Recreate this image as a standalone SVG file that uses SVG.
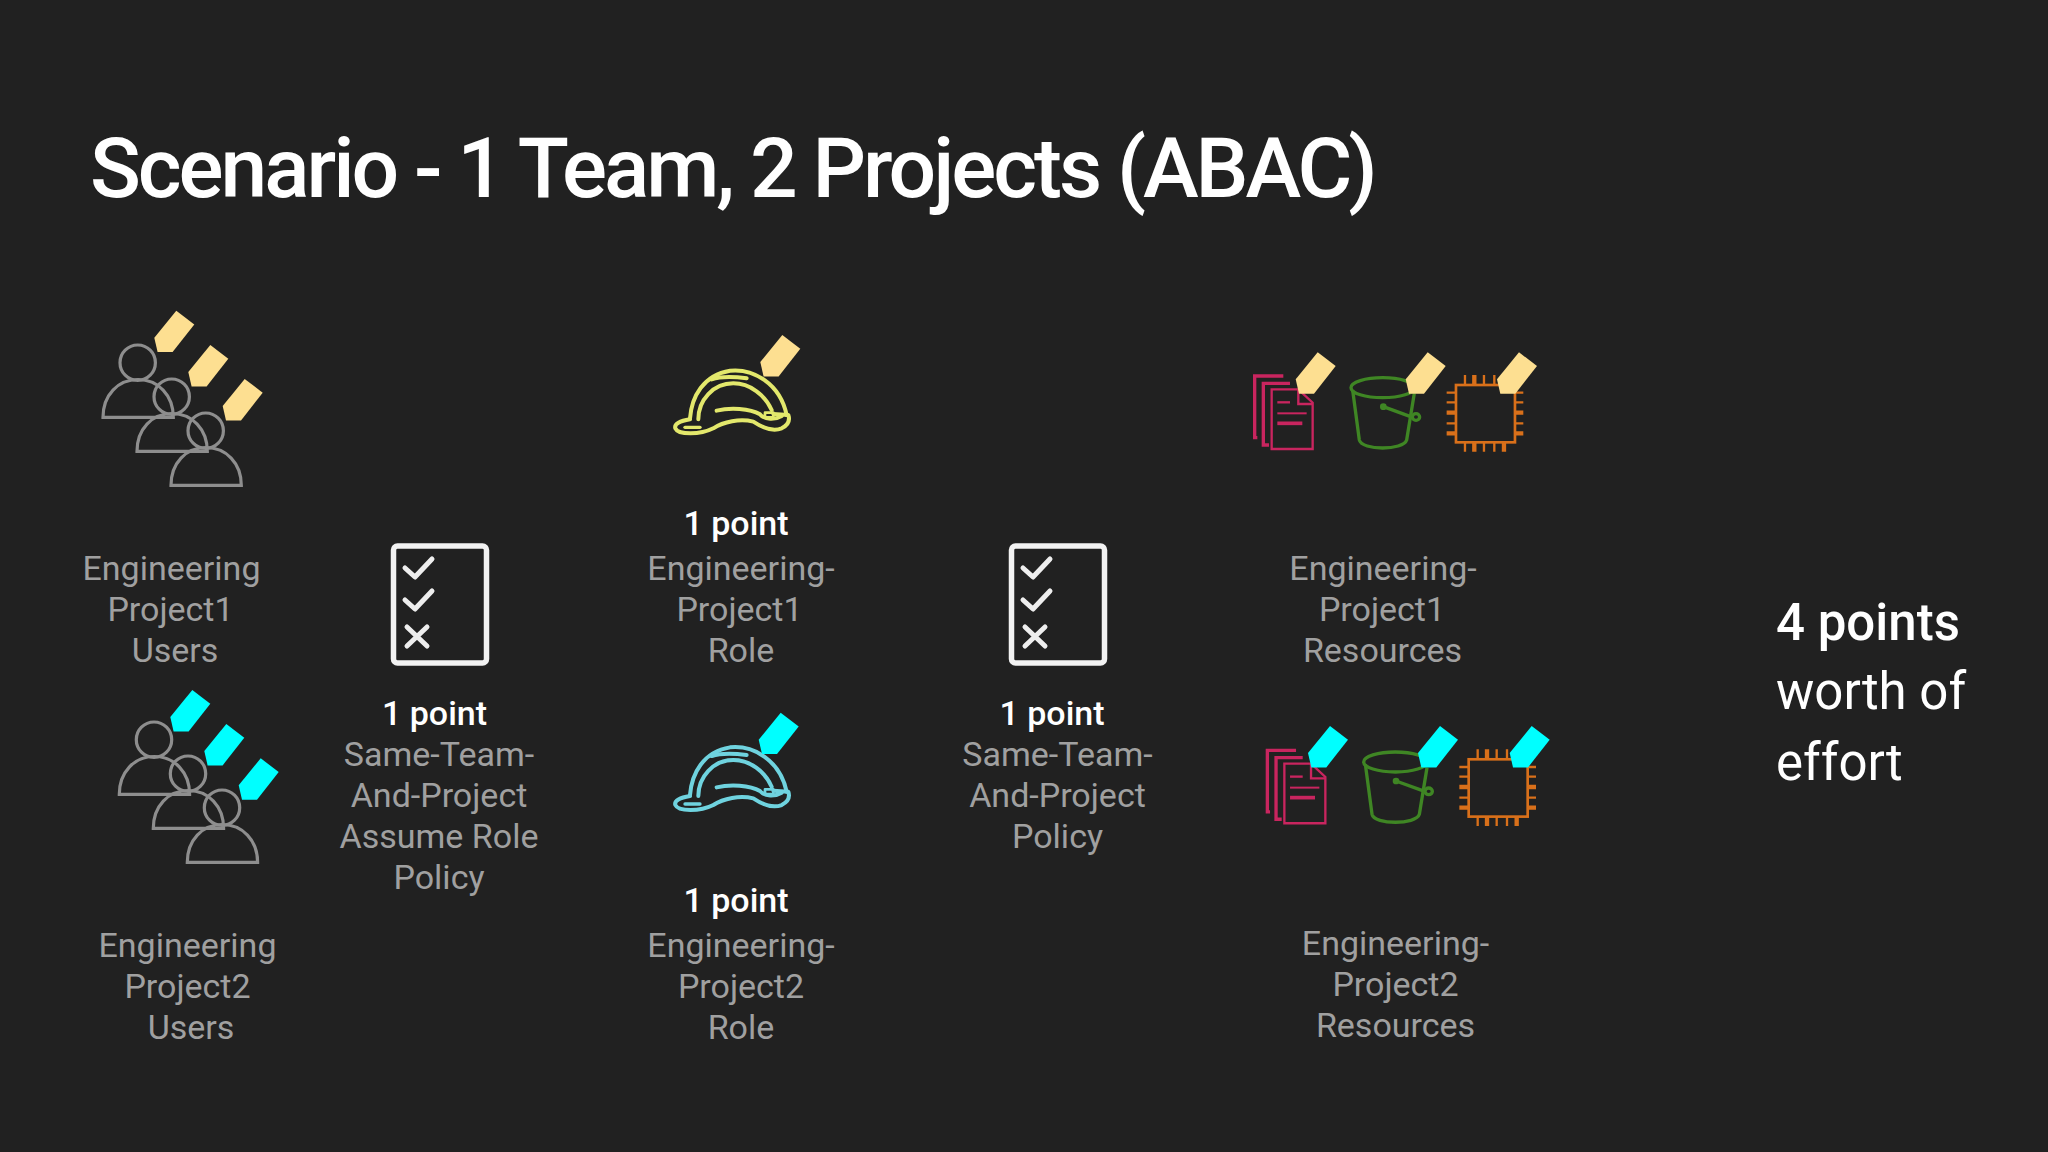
<svg xmlns="http://www.w3.org/2000/svg" xmlns:xlink="http://www.w3.org/1999/xlink" width="2048" height="1152" viewBox="0 0 2048 1152">
<style>
text{font-family:Roboto,"Liberation Sans",sans-serif}
.t{font-size:84px;fill:#fff;font-weight:500;letter-spacing:-3.05px}
.l{font-size:34px;fill:#a0a0a0;text-anchor:middle}
.p{font-size:34px;fill:#fff;font-weight:500;text-anchor:middle}
.b{font-size:51px;fill:#fff}
.y{fill:#fddf91}.c{fill:#00ffff}
.u{fill:none;stroke:#8e8e8e;stroke-width:3.2}
.k{fill:none;stroke:#eeeeee;stroke-width:5;stroke-linecap:round;stroke-linejoin:round}
.k2{fill:none;stroke:#f2f2f2;stroke-width:5.5;stroke-linejoin:round}
.h{fill:none;stroke-width:12;stroke-linecap:round;stroke-linejoin:round}
.pk{fill:none;stroke:#c9255f}
.gr{fill:none;stroke:#3f8624;stroke-width:10}
.or{fill:none;stroke:#d9701a}
</style>
<defs>
<polygon id="tag" points="0,0 18,13.7 -3.7,41.4 -18.7,41.4 -22,27"/>
<g id="person"><circle cx="137.7" cy="362.7" r="17.7"/><path d="M103 417.3C103 395 118 379.5 138 379.5S173.3 395 173.3 417.3Z"/></g>
<g id="people" class="u"><use xlink:href="#person"/><use xlink:href="#person" x="34" y="34"/><use xlink:href="#person" x="68" y="68"/></g>
<g id="helmet">
<path d="M120 295C125 230 160 165 240 152C310 145 390 190 410 285"/>
<path d="M145 298C145 240 190 190 250 190C300 190 345 225 365 270"/>
<path d="M185 178C215 168 255 170 290 175"/>
<path d="M120 298C90 303 72 312 76 325C85 345 150 345 190 325C220 305 270 295 310 305C340 325 370 335 395 325C415 315 420 300 415 285L370 282"/>
<path d="M200 272C240 262 300 265 330 283C345 300 375 300 395 288"/>
<path d="M345 278H370V292H345Z" stroke-width="8"/>
<path d="M105 322H150" stroke-width="10"/>
</g>
<g id="res">
<g class="pk">
<path d="M125 148H205L248 188V327H125Z" stroke-width="7"/>
<path d="M205 148V192H248" stroke-width="7"/>
<path d="M142 187H180" stroke-width="7"/>
<path d="M142 220H230" stroke-width="6"/>
<path d="M142 250H217" stroke-width="11"/>
<path d="M180 130H100V315H117" stroke-width="10"/>
<path d="M160 108H74V293H82" stroke-width="10"/>
</g>
<g class="gr">
<ellipse cx="458" cy="143" rx="95" ry="30"/>
<path d="M368 150L388 300C395 332 520 332 530 300L553 160"/>
<path d="M460 200L548 232"/>
<circle cx="460" cy="200" r="10" fill="#3f8624" stroke="none"/>
<ellipse cx="558" cy="231" rx="11" ry="10"/>
</g>
<g class="or">
<rect x="678" y="135" width="177" height="172" stroke-width="8"/>
<path d="M705 105V135M762 105V135M793 105V135M822 105V135M705 307V335M762 307V335M793 307V335M650 158H678M650 187H678M650 250H678M855 158H880M855 187H880M855 250H880" stroke-width="7"/>
<path d="M733 105V135M733 307V335M822 307V335M650 218H678M650 280H678M855 218H880M855 280H880" stroke-width="13"/>
</g>
</g>
<g id="check">
<rect x="393.5" y="546" width="93" height="117" rx="4" class="k2"/>
<path class="k" d="M405 568L415 577L432 559M405 600L415 609L432 591M407 627L427 646M427 627L407 646"/>
</g>
</defs>
<rect width="2048" height="1152" fill="#212121"/>
<text class="t" x="90" y="197">Scenario - 1 Team, 2 Projects (ABAC)</text>

<g id="users1">
<use xlink:href="#people"/>
<g class="y"><use xlink:href="#tag" x="176.3" y="310.7"/><use xlink:href="#tag" x="210.3" y="345"/><use xlink:href="#tag" x="244.7" y="379"/></g>
<text class="l" x="171.5" y="579.5">Engineering</text><text class="l" x="170.5" y="620.5">Project1</text><text class="l" x="175" y="661.5">Users</text>
</g>
<g id="users2">
<use xlink:href="#people" x="16.3" y="377"/>
<g class="c"><use xlink:href="#tag" x="192.3" y="690"/><use xlink:href="#tag" x="226.3" y="724"/><use xlink:href="#tag" x="260.7" y="758.3"/></g>
<text class="l" x="187.5" y="956.5">Engineering</text><text class="l" x="187.5" y="997.5">Project2</text><text class="l" x="191" y="1038.5">Users</text>
</g>
<g id="policy1">
<use xlink:href="#check"/>
<text class="p" x="434.5" y="724.5">1 point</text>
<text class="l" x="439" y="765.5">Same-Team-</text><text class="l" x="439" y="806.5">And-Project</text><text class="l" x="439" y="847.5">Assume Role</text><text class="l" x="439" y="888.5">Policy</text>
</g>
<g id="role1">
<use xlink:href="#helmet" transform="translate(650 320) scale(.3333)" class="h" stroke="#e3e86c"/>
<use xlink:href="#tag" x="782.3" y="335" class="y"/>
<text class="p" x="736" y="534.5">1 point</text>
<text class="l" x="741" y="579.5">Engineering-</text><text class="l" x="739.5" y="620.5">Project1</text><text class="l" x="741" y="661.5">Role</text>
</g>
<g id="role2">
<use xlink:href="#helmet" transform="translate(650 696.7) scale(.3333)" class="h" stroke="#6fd3df"/>
<use xlink:href="#tag" x="780.7" y="712.7" class="c"/>
<text class="p" x="736" y="911.5">1 point</text>
<text class="l" x="741" y="956.5">Engineering-</text><text class="l" x="741" y="997.5">Project2</text><text class="l" x="741" y="1038.5">Role</text>
</g>
<g id="policy2">
<use xlink:href="#check" x="618"/>
<text class="p" x="1052" y="724.5">1 point</text>
<text class="l" x="1057.5" y="765.5">Same-Team-</text><text class="l" x="1057.5" y="806.5">And-Project</text><text class="l" x="1057.5" y="847.5">Policy</text>
</g>
<g id="resources1">
<use xlink:href="#res" transform="translate(1230 340) scale(.3333)"/>
<g class="y"><use xlink:href="#tag" x="1317.7" y="352.3"/><use xlink:href="#tag" x="1427.7" y="352.3"/><use xlink:href="#tag" x="1519" y="352.3"/></g>
<text class="l" x="1383" y="579.5">Engineering-</text><text class="l" x="1382" y="620.5">Project1</text><text class="l" x="1382.5" y="661.5">Resources</text>
</g>
<g id="resources2">
<use xlink:href="#res" transform="translate(1242.7 714.3) scale(.3333)"/>
<g class="c"><use xlink:href="#tag" x="1330" y="726"/><use xlink:href="#tag" x="1440" y="726"/><use xlink:href="#tag" x="1531.7" y="726"/></g>
<text class="l" x="1395.5" y="954.5">Engineering-</text><text class="l" x="1395.5" y="995.5">Project2</text><text class="l" x="1395.5" y="1036.5">Resources</text>
</g>
<g id="summary">
<text class="b" x="1776" y="640" style="font-weight:500">4 points</text>
<text class="b" x="1776" y="709">worth of</text>
<text class="b" x="1776" y="780">effort</text>
</g>
</svg>
